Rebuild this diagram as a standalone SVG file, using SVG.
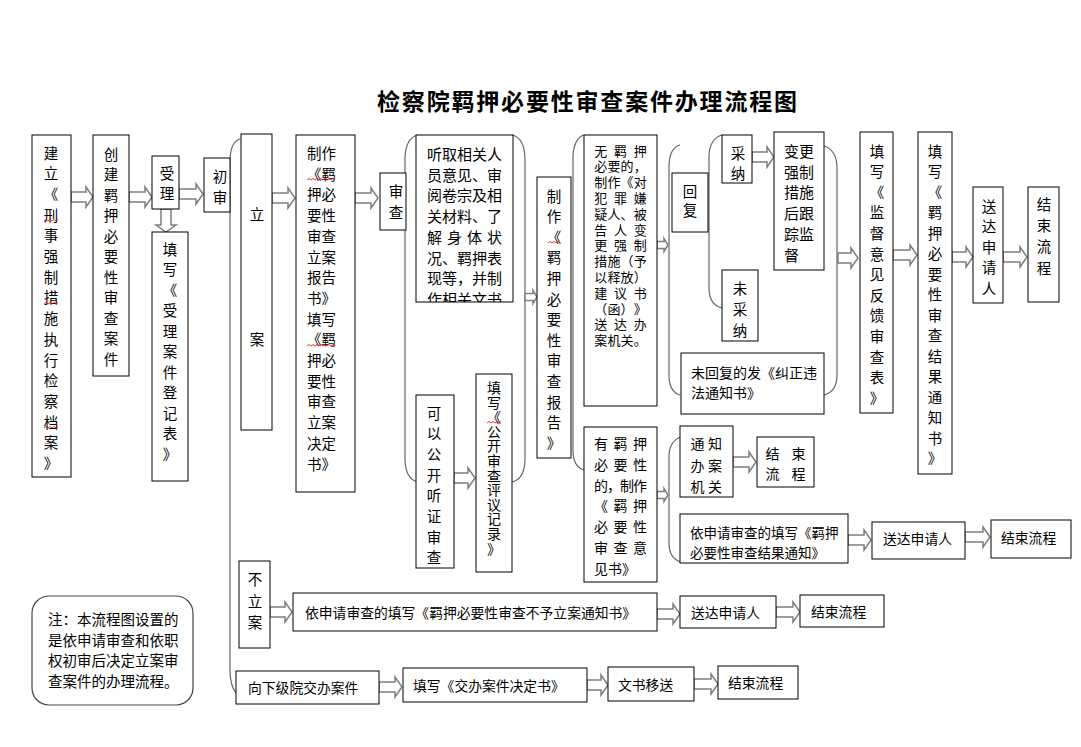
<svg xmlns="http://www.w3.org/2000/svg" width="1081" height="747" viewBox="0 0 1081 747">
<style>
.b{fill:#fff;stroke:#000;stroke-width:1}
.t{font-family:"Noto Sans CJK SC","Noto Sans CJK JP",sans-serif;font-size:14.5px;fill:#000;dominant-baseline:central}
.v{text-anchor:middle}
.h{font-size:13.8px}
.br{fill:none;stroke:#666;stroke-width:1.2}
.ar{fill:#fff;stroke:#7f7f7f;stroke-width:1.5;stroke-linejoin:miter}
.sq{fill:none;stroke:#e00;stroke-width:0.8}
</style>
<defs>
<clipPath id="c1"><rect x="416" y="135" width="97" height="167"/></clipPath>
</defs>
<rect width="1081" height="747" fill="#fff"/>
<text x="377" y="100" class="t" style="font-size:23px;font-weight:bold" textLength="420" lengthAdjust="spacing">检察院羁押必要性审查案件办理流程图</text>

<g id="connectors">
<path class="br" d="M240,139 C233,141 230,150 230,162 L230,670 C230,680 232,688 236,693"/>
<path class="br" d="M418,135 C409,137 405,146 405,160 L405,458 C405,472 409,480 418,482"/>
<path class="br" d="M512,135 C521,137 525,146 525,160 L525,458 C525,472 521,480 512,482"/>
<path class="br" d="M584,135 C577,137 573,146 573,158 L573,450 C573,462 577,468 584,470"/>
<path class="br" d="M680,145 C673,147 669,155 669,167 L669,375 C669,387 673,393 680,395"/>
<path class="br" d="M722,135 C714,137 709,145 709,157 L709,288 C709,300 714,306 722,308"/>
<path class="br" d="M824,146 C832,148 837,156 837,168 L837,375 C837,387 832,393 824,395"/>
<path class="br" d="M681,437 C674,439 669,446 669,456 L669,543 C669,554 674,560 681,562"/>
<path class="ar" d="M71 192 H86 V187 L93 197 L86 207 V202 H71 Z"/>
<path class="ar" d="M129 192 H145 V187 L152 197 L145 207 V202 H129 Z"/>
<path class="ar" d="M179 189 H196 V184 L203 194 L196 204 V199 H179 Z"/>
<path class="ar" d="M161 209 V225 H156 L166 232 L176 225 H171 V209 Z"/>
<path class="ar" d="M272 193 H288 V188 L295 198 L288 208 V203 H272 Z"/>
<path class="ar" d="M355 193 H371 V188 L378 198 L371 208 V203 H355 Z"/>
<path class="ar" d="M454 473 H468 V468 L475 478 L468 488 V483 H454 Z"/>
<path class="ar" d="M525 293.5 H533 V290.5 L537 297 L533 303.5 V300.5 H525 Z"/>
<path class="ar" d="M657 241.5 H664 V238.5 L668 245 L664 251.5 V248.5 H657 Z"/>
<path class="ar" d="M657 491.5 H664 V488.5 L668 495 L664 501.5 V498.5 H657 Z"/>
<path class="ar" d="M752 152 H767 V147 L774 157 L767 167 V162 H752 Z"/>
<path class="ar" d="M838 253 H851 V248 L858 258 L851 268 V263 H838 Z"/>
<path class="ar" d="M893 250 H910 V245 L917 255 L910 265 V260 H893 Z"/>
<path class="ar" d="M952 252 H966 V247 L973 257 L966 267 V262 H952 Z"/>
<path class="ar" d="M1003 252 H1020 V247 L1027 257 L1020 267 V262 H1003 Z"/>
<path class="ar" d="M733 457 H749 V452 L756 462 L749 472 V467 H733 Z"/>
<path class="ar" d="M848 535 H864 V530 L871 540 L864 550 V545 H848 Z"/>
<path class="ar" d="M965 532 H983 V527 L990 537 L983 547 V542 H965 Z"/>
<path class="ar" d="M270 607 H285 V602 L292 612 L285 622 V617 H270 Z"/>
<path class="ar" d="M657 609 H673 V604 L680 614 L673 624 V619 H657 Z"/>
<path class="ar" d="M776 607 H793 V602 L800 612 L793 622 V617 H776 Z"/>
<path class="ar" d="M379 682 H395 V677 L402 687 L395 697 V692 H379 Z"/>
<path class="ar" d="M587 680 H601 V675 L608 685 L601 695 V690 H587 Z"/>
<path class="ar" d="M694 679 H711 V674 L718 684 L711 694 V689 H694 Z"/>
</g>

<g id="n1">
<rect class="b" x="32" y="135" width="39" height="342"/>
<text class="t v" x="51 51 51 51 51 51 51 51 51 51 51 51 51 51 51 51" y="152 172.7 193.4 214.1 234.8 255.5 276.2 296.9 317.6 338.3 359 379.7 400.4 421.1 441.8 462.5">建立《刑事强制措施执行检察档案》</text>
<path class="sq" d="M44 221 l2 -1.5 l2 1.5 l2 -1.5 l2 1.5 l2 -1.5 l2 1.5 l2 -1.5"/>
<path class="sq" d="M44 304 l2 -1.5 l2 1.5 l2 -1.5 l2 1.5 l2 -1.5 l2 1.5 l2 -1.5"/>
<path class="sq" d="M44 428 l2 -1.5 l2 1.5 l2 -1.5 l2 1.5 l2 -1.5 l2 1.5 l2 -1.5"/>
</g>
<g id="n2">
<rect class="b" x="93" y="135" width="36" height="241"/>
<text class="t v" x="111 111 111 111 111 111 111 111 111 111 111" y="153 173.5 194 214.5 235 255.5 276 296.5 317 337.5 358">创建羁押必要性审查案件</text>
</g>
<g id="n3">
<rect class="b" x="152" y="156" width="27" height="53"/>
<text class="t v" x="167 167" y="172 192">受理</text>
</g>
<g id="n4">
<rect class="b" x="152" y="232" width="36" height="249"/>
<text class="t v" x="170 170 170 170 170 170 170 170 170 170 170" y="248 268.5 289 309.5 330 350.5 371 391.5 412 432.5 453">填写《受理案件登记表》</text>
</g>
<g id="n5">
<rect class="b" x="204" y="158" width="26" height="54"/>
<text class="t v" x="220 220" y="175 196">初审</text>
</g>
<g id="n6">
<rect class="b" x="241" y="134" width="31" height="296"/>
<text class="t v" x="257 257" y="213 338">立案</text>
</g>
<g id="n7">
<rect class="b" x="296" y="135" width="59" height="357"/>
<text class="t"><tspan x="307" y="152">制作</tspan><tspan x="307" y="172.7">《羁</tspan><tspan x="307" y="193.4">押必</tspan><tspan x="307" y="214.1">要性</tspan><tspan x="307" y="234.8">审查</tspan><tspan x="307" y="255.5">立案</tspan><tspan x="307" y="276.2">报告</tspan><tspan x="307" y="296.9">书》</tspan><tspan x="307" y="317.6">填写</tspan><tspan x="307" y="338.3">《羁</tspan><tspan x="307" y="359">押必</tspan><tspan x="307" y="379.7">要性</tspan><tspan x="307" y="400.4">审查</tspan><tspan x="307" y="421.1">立案</tspan><tspan x="307" y="441.8">决定</tspan><tspan x="307" y="462.5">书》</tspan></text>
<path class="sq" d="M307 180 l2 -1.5 l2 1.5 l2 -1.5 l2 1.5 l2 -1.5 l2 1.5 l2 -1.5 l2 1.5 l2 -1.5 l2 1.5 l2 -1.5 l2 1.5 l2 -1.5 l2 1.5"/>
<path class="sq" d="M307 346 l2 -1.5 l2 1.5 l2 -1.5 l2 1.5 l2 -1.5 l2 1.5 l2 -1.5 l2 1.5 l2 -1.5 l2 1.5 l2 -1.5 l2 1.5 l2 -1.5 l2 1.5"/>
</g>
<g id="n8">
<rect class="b" x="380" y="173" width="26" height="57"/>
<text class="t v" x="396 396" y="190 211">审查</text>
</g>
<g id="n9">
<rect class="b" x="416" y="135" width="97" height="167"/>
<g clip-path="url(#c1)">
<text class="t" style="font-size:15px"><tspan x="427" y="153">听取相关人</tspan><tspan x="427" y="173.7">员意见、审</tspan><tspan x="427" y="194.4">阅卷宗及相</tspan><tspan x="427" y="215.1">关材料、了</tspan><tspan class="v" x="434.5 454.5 474.5 494.5" y="235.8 235.8 235.8 235.8">解身体状</tspan><tspan x="427" y="256.5">况、羁押表</tspan><tspan x="427" y="277.2">现等，并制</tspan><tspan x="427" y="297.9">作相关文书</tspan></text>
</g>
</g>
<g id="n10">
<rect class="b" x="416" y="395" width="38" height="173"/>
<text class="t v" x="434 434 434 434 434 434 434 434" y="412 432.7 453.4 474.1 494.8 515.5 536.2 556.9">可以公开听证审查</text>
</g>
<g id="n11">
<rect class="b" x="476" y="374" width="36" height="198"/>
<text class="t v" style="font-size:14px" x="494 494 494 494 494 494 494 494 494 494 494 494" y="387 401.6 416.2 430.8 445.4 460 474.6 489.2 503.8 518.4 533 547.6">填写《公开审查评议记录》</text>
<path class="sq" d="M487 423 l2 -1.5 l2 1.5 l2 -1.5 l2 1.5 l2 -1.5 l2 1.5 l2 -1.5"/>
</g>
<g id="n12">
<rect class="b" x="537" y="177" width="34" height="281"/>
<text class="t v" x="554 554 554 554 554 554 554 554 554 554 554 554 554" y="195 215.6 236.2 256.8 277.4 298 318.6 339.2 359.8 380.4 401 421.6 442.2">制作《羁押必要性审查报告》</text>
<path class="sq" d="M548 243 l2 -1.5 l2 1.5 l2 -1.5 l2 1.5 l2 -1.5 l2 1.5"/>
</g>
<g id="n13">
<rect class="b" x="584" y="135" width="73" height="271"/>
<text class="t v" style="font-size:13px" x="600.7 620.5 640.3 600.7 613.9 627.1 640.3 600.7 613.9 627.1 640.3 600.7 620.5 640.3 600.7 613.9 627.1 640.3 600.7 620.5 640.3 600.7 620.5 640.3 600.7 613.9 627.1 640.3 600.7 613.9 627.1 640.3 600.7 620.5 640.3 600.7 613.9 627.1 640.3 600.7 620.5 640.3 600.7 613.9 627.1 640.3" y="150 150 150 165.8 165.8 165.8 165.8 181.6 181.6 181.6 181.6 197.4 197.4 197.4 213.2 213.2 213.2 213.2 229 229 229 244.8 244.8 244.8 260.6 260.6 260.6 260.6 276.4 276.4 276.4 276.4 292.2 292.2 292.2 308 308 308 308 323.8 323.8 323.8 339.6 339.6 339.6 339.6">无羁押必要的，制作《对犯罪嫌疑人、被告人变更强制措施（予以释放）建议书（函）》送达办案机关。</text>
</g>
<g id="n14">
<rect class="b" x="672" y="173" width="36" height="59"/>
<text class="t v" x="690 690" y="190 209">回复</text>
</g>
<g id="n15">
<rect class="b" x="722" y="135" width="30" height="48"/>
<text class="t v" x="738 738" y="152 172">采纳</text>
</g>
<g id="n16">
<rect class="b" x="774" y="132" width="50" height="138"/>
<text class="t" style="font-size:15px"><tspan x="784" y="150">变更</tspan><tspan x="784" y="170.7">强制</tspan><tspan x="784" y="191.4">措施</tspan><tspan x="784" y="212.1">后跟</tspan><tspan x="784" y="232.8">踪监</tspan><tspan x="784" y="253.5">督</tspan></text>
</g>
<g id="n17">
<rect class="b" x="722" y="270" width="36" height="71"/>
<text class="t v" x="740 740 740" y="287 308 329">未采纳</text>
</g>
<g id="n18">
<rect class="b" x="681" y="353" width="143" height="61"/>
<text class="t" style="font-size:14px"><tspan x="691" y="372">未回复的发《纠正违</tspan><tspan x="691" y="392">法通知书》</tspan></text>
</g>
<g id="n19">
<rect class="b" x="860" y="132" width="33" height="281"/>
<text class="t v" x="877 877 877 877 877 877 877 877 877 877 877 877 877" y="150 170.6 191.2 211.8 232.4 253 273.6 294.2 314.8 335.4 356 376.6 397.2">填写《监督意见反馈审查表》</text>
</g>
<g id="n20">
<rect class="b" x="918" y="132" width="34" height="342"/>
<text class="t v" x="935 935 935 935 935 935 935 935 935 935 935 935 935 935 935 935" y="150 170.5 191 211.5 232 252.5 273 293.5 314 334.5 355 375.5 396 416.5 437 457.5">填写《羁押必要性审查结果通知书》</text>
</g>
<g id="n21">
<rect class="b" x="973" y="187" width="30" height="116"/>
<text class="t v" x="989 989 989 989 989" y="205 225.5 246 266.5 287">送达申请人</text>
</g>
<g id="n22">
<rect class="b" x="1028" y="187" width="31" height="115"/>
<text class="t v" x="1044 1044 1044 1044" y="203 224.3 245.6 267">结束流程</text>
</g>
<g id="n23">
<rect class="b" x="584" y="427" width="73" height="155"/>
<text class="t v" style="font-size:14px"><tspan x="601 620.5 640" y="443 443 443">有羁押</tspan><tspan x="601 620.5 640" y="463.8 463.8 463.8">必要性</tspan><tspan x="601 614 627 640" y="484.6 484.6 484.6 484.6">的，制作</tspan><tspan x="601 620.5 640" y="505.4 505.4 505.4">《羁押</tspan><tspan x="601 620.5 640" y="526.2 526.2 526.2">必要性</tspan><tspan x="601 620.5 640" y="547 547 547">审查意</tspan><tspan x="601 615 629" y="567.8 567.8 567.8">见书》</tspan></text>
</g>
<g id="n24">
<rect class="b" x="680" y="426" width="53" height="71"/>
<text class="t v" style="font-size:14px"><tspan x="697.5 715" y="443 443">通知</tspan><tspan x="697.5 715" y="465 465">办案</tspan><tspan x="697.5 715" y="486 486">机关</tspan></text>
</g>
<g id="n25">
<rect class="b" x="757" y="437" width="57" height="50"/>
<text class="t v" style="font-size:14px"><tspan x="772.5 798.5" y="453 453">结束</tspan><tspan x="772.5 798.5" y="473 473">流程</tspan></text>
</g>
<g id="n26">
<rect class="b" x="680" y="514" width="168" height="49"/>
<text class="t" style="font-size:13.5px"><tspan x="690" y="532">依申请审查的填写《羁押</tspan><tspan x="690" y="552">必要性审查结果通知》</tspan></text>
</g>
<g id="n27">
<rect class="b" x="872" y="522" width="93" height="37"/>
<text class="t h" x="883" y="538">送达申请人</text>
</g>
<g id="n28">
<rect class="b" x="991" y="520" width="80" height="38"/>
<text class="t h" x="1001" y="537">结束流程</text>
</g>
<g id="note">
<rect x="32" y="596" width="161" height="109" rx="17" fill="#fff" stroke="#444" stroke-width="1.2"/>
<text class="t"><tspan x="48" y="618">注：本流程图设置的</tspan><tspan x="48" y="639">是依申请审查和依职</tspan><tspan x="48" y="659">权初审后决定立案审</tspan><tspan x="48" y="680">查案件的办理流程。</tspan></text>
</g>
<g id="n29">
<rect class="b" x="239" y="561" width="31" height="87"/>
<text class="t v" x="255 255 255" y="578 600 621">不立案</text>
</g>
<g id="n30">
<rect class="b" x="293" y="593" width="364" height="38"/>
<text class="t h" x="305" y="612">依申请审查的填写《羁押必要性审查不予立案通知书》</text>
</g>
<g id="n31">
<rect class="b" x="680" y="596" width="96" height="32"/>
<text class="t h" x="691" y="612">送达申请人</text>
</g>
<g id="n32">
<rect class="b" x="800" y="595" width="84" height="32"/>
<text class="t h" x="811" y="611">结束流程</text>
</g>
<g id="n33">
<rect class="b" x="236" y="671" width="143" height="33"/>
<text class="t h" x="248" y="687">向下级院交办案件</text>
</g>
<g id="n34">
<rect class="b" x="403" y="668" width="184" height="34"/>
<text class="t h" x="413" y="685">填写《交办案件决定书》</text>
</g>
<g id="n35">
<rect class="b" x="608" y="667" width="86" height="34"/>
<text class="t h" x="618" y="684">文书移送</text>
</g>
<g id="n36">
<rect class="b" x="718" y="666" width="80" height="33"/>
<text class="t h" x="728" y="682">结束流程</text>
</g>
</svg>
